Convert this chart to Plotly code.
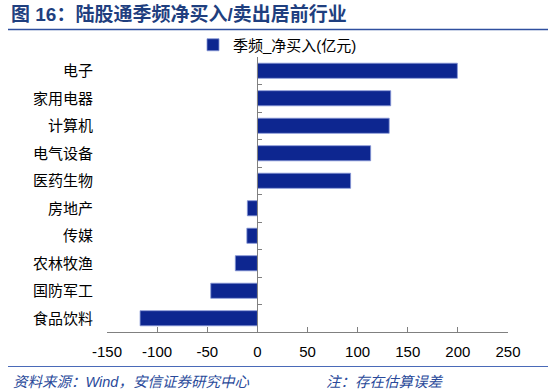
import plotly.graph_objects as go

categories = ["电子", "家用电器", "计算机", "电气设备", "医药生物",
              "房地产", "传媒", "农林牧渔", "国防军工", "食品饮料"]
values = [199.5, 133, 131.5, 113, 93, -10, -10.5, -22, -46.5, -117]
x_ticks = [-150, -100, -50, 0, 50, 100, 150, 200, 250]
x_tick_labels = ["-150", "-100", "-50", "0", "50", "100", "150", "200", "250"]

series_name = "季频_净买入(亿元)"
title_text = "图 16：陆股通季频净买入/卖出居前行业"
source_text = "资料来源：Wind，安信证券研究中心"
note_text = "注：存在估算误差"

W, H = 550, 391
L, R, T, B = 107, 42, 57, 59
pw, ph = W - L - R, H - T - B


def px_x(x):
    return (x - L) / pw


def px_y(y):
    return (H - B - y) / ph


FONT = "Liberation Sans, Arial, Noto Sans CJK SC, sans-serif"
n = len(categories)
yr = [n - 0.5, -0.5]
xr = [x_ticks[0], x_ticks[-1]]

fig = go.Figure()
fig.add_trace(go.Bar(
    x=values, y=categories, orientation="h", name=series_name,
    marker=dict(color="#0d2690", line=dict(color="#8595d6", width=0.8)),
    width=0.55, showlegend=True,
))
# invisible trace to carry the zero-position axis
fig.add_trace(go.Scatter(
    x=values, y=categories, yaxis="y2", mode="markers",
    marker=dict(opacity=0), showlegend=False, hoverinfo="skip",
))

zero_pos = (0 - xr[0]) / (xr[1] - xr[0])

fig.update_layout(
    width=W, height=H,
    margin=dict(l=L, r=R, t=T, b=B),
    paper_bgcolor="white", plot_bgcolor="white",
    font=dict(family=FONT, size=15, color="#000000"),
    xaxis=dict(
        range=xr, tickvals=x_ticks, ticktext=x_tick_labels,
        showgrid=False, zeroline=False,
        showline=True, linecolor="#808080", linewidth=1,
        ticks="inside", ticklen=5, tickcolor="#808080",
        tickfont=dict(size=15, color="#000000"), ticklabelstandoff=6,
    ),
    yaxis=dict(
        type="category", categoryarray=categories, categoryorder="array",
        range=yr, showgrid=False, zeroline=False, showline=False,
        ticks="", tickfont=dict(size=15, color="#000000"),
        ticklabelstandoff=13,
    ),
    yaxis2=dict(
        type="category", categoryarray=categories, categoryorder="array",
        range=yr, overlaying="y", anchor="free", position=zero_pos,
        side="left", showgrid=False, zeroline=False,
        showline=True, linecolor="#808080", linewidth=1,
        ticks="inside", ticklen=4, tickcolor="#808080",
        tickson="boundaries", showticklabels=False,
    ),
    legend=dict(
        orientation="h", x=px_x(193), y=px_y(45), xanchor="left",
        yanchor="middle", font=dict(size=15, color="#000000"),
        bgcolor="rgba(0,0,0,0)", itemwidth=30,
    ),
    bargap=0.45,
)

fig.add_annotation(
    text="<b>" + title_text + "</b>", xref="paper", yref="paper",
    x=px_x(9), y=px_y(15), xanchor="left", yanchor="middle",
    showarrow=False,
    font=dict(family="Liberation Sans, Noto Sans CJK SC", size=19, color="#1f3f7f"),
)
fig.add_annotation(
    text="<i>" + source_text + "</i>", xref="paper", yref="paper",
    x=px_x(11), y=px_y(382), xanchor="left", yanchor="middle",
    showarrow=False,
    font=dict(family="Liberation Sans, Noto Sans CJK SC", size=14.5, color="#2a4a9a"),
)
fig.add_annotation(
    text="<i>" + note_text + "</i>", xref="paper", yref="paper",
    x=px_x(324), y=px_y(382), xanchor="left", yanchor="middle",
    showarrow=False,
    font=dict(family="Liberation Sans, Noto Sans CJK SC", size=14.5, color="#2a4a9a"),
)
fig.add_shape(type="line", xref="paper", yref="paper",
              x0=px_x(8), x1=px_x(548), y0=px_y(29.5), y1=px_y(29.5),
              line=dict(color="#2f4f9f", width=1.5))
fig.add_shape(type="line", xref="paper", yref="paper",
              x0=px_x(8), x1=px_x(548), y0=px_y(366.5), y1=px_y(366.5),
              line=dict(color="#4a6ab8", width=1.2))

fig.write_html(
    "out.html",
    config={"displayModeBar": False},
    post_script="document.body.style.margin='0';document.body.style.padding='0';",
)
